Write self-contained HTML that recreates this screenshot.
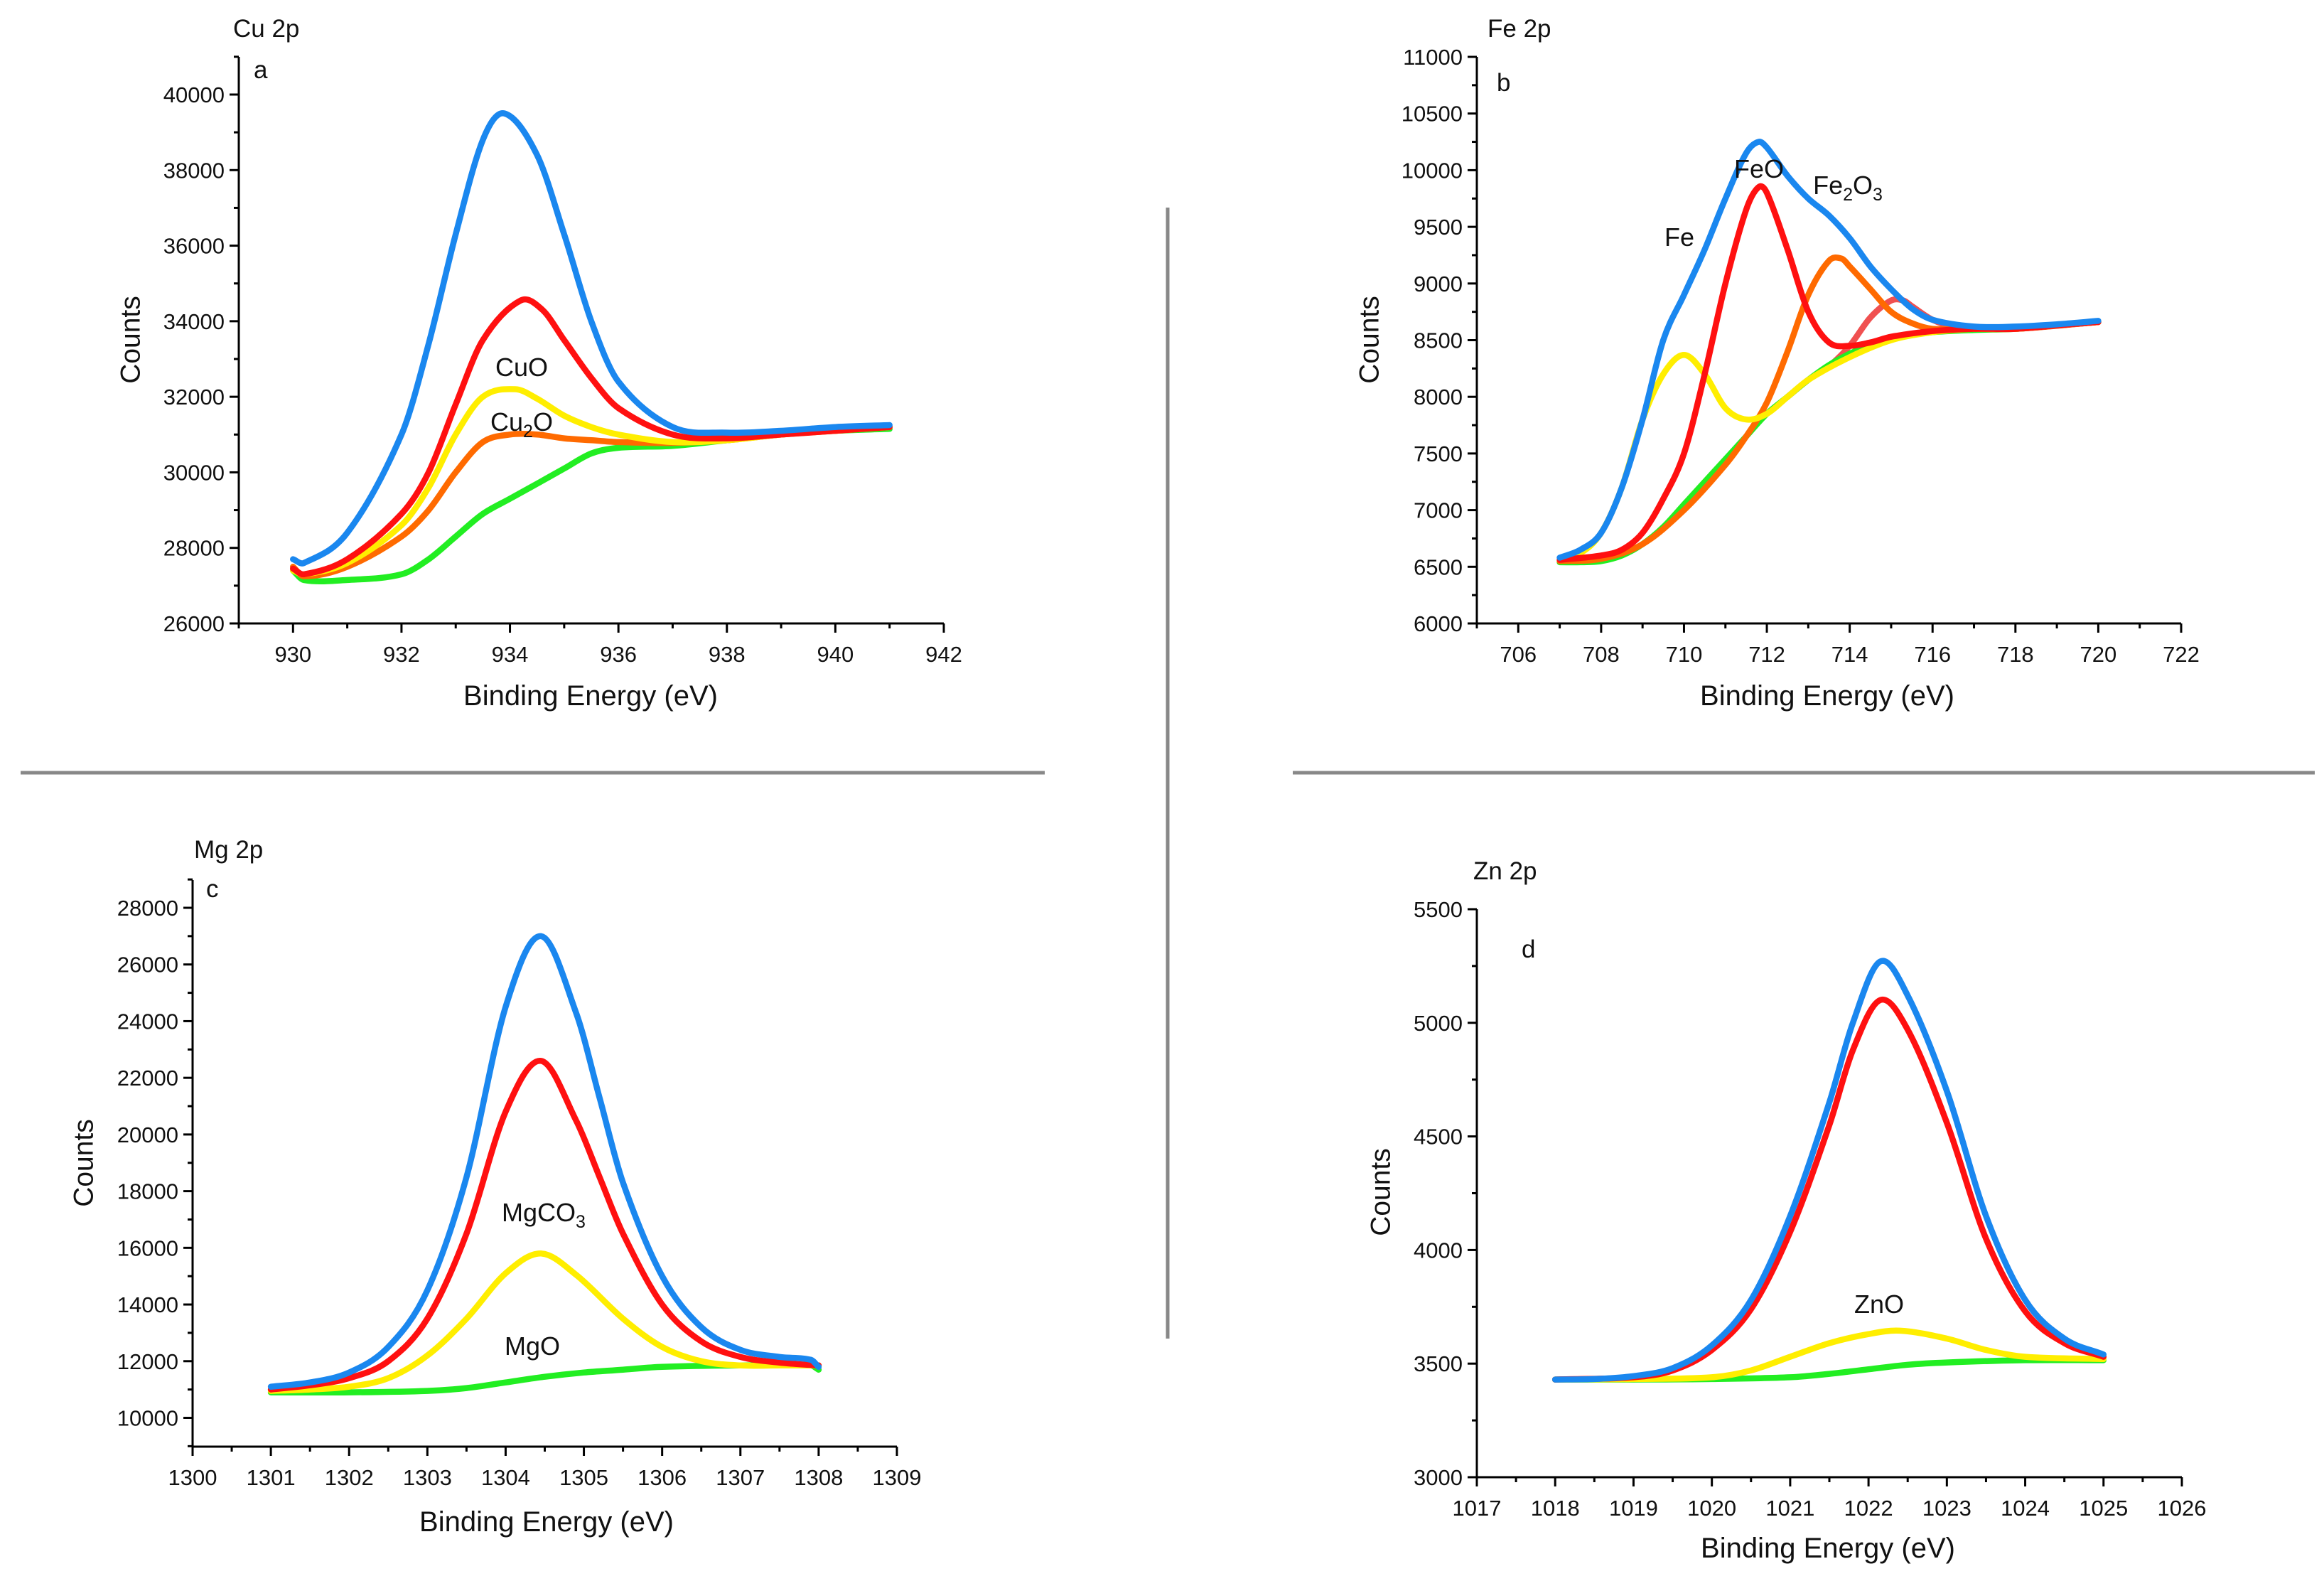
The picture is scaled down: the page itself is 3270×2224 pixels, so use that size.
<!DOCTYPE html>
<html><head><meta charset="utf-8"><style>
html,body{margin:0;padding:0;background:#fff;}
svg{display:block;font-family:"Liberation Sans",sans-serif;}
</style></head><body>
<svg id="fig" width="3270" height="2224" viewBox="0 0 3270 2224" xmlns="http://www.w3.org/2000/svg">
<rect width="3270" height="2224" fill="#fff"/>
<line x1="1643" y1="292" x2="1643" y2="1883" stroke="#888" stroke-width="5"/>
<line x1="29" y1="1087" x2="1470" y2="1087" stroke="#888" stroke-width="5"/>
<line x1="1819" y1="1087" x2="3257" y2="1087" stroke="#888" stroke-width="5"/>
</svg>
<script>
// ---- Panel a: Cu 2p ----
const cuBlueX=[930,930.2,931,932,932.5,933,933.5,933.9,934.5,935,935.5,936,937,938,939,940,941];
const cuBlueY=[27700,27600,28400,31000,33400,36300,38800,39500,38400,36300,34000,32400,31200,31050,31100,31200,31250];
const cuRedX=[930,930.2,931,932,932.5,933,933.5,934.2,934.6,935,935.5,936,937,938,939,940,941];
const cuRedY=[27450,27300,27700,28900,30000,31800,33500,34550,34300,33500,32500,31700,31000,30900,31000,31100,31200];
const cuYellowX=[930,930.2,931,932,932.5,933,933.5,934.1,934.5,935,935.5,936,937,938,939,940,941];
const cuYellowY=[27400,27300,27600,28600,29600,31000,32000,32200,31950,31500,31200,31000,30800,30850,31000,31100,31200];
const cuOrangeX=[930,930.2,931,932,932.5,933,933.5,934,934.5,935,935.5,936,937,938,939,940,941];
const cuOrangeY=[27500,27250,27500,28300,29000,30000,30800,31000,31000,30900,30850,30800,30780,30850,31000,31100,31200];
const cuGreenX=[930,930.2,931,932,932.5,933,933.5,934,934.5,935,935.5,936,937,938,939,940,941];
const cuGreenY=[27400,27150,27150,27300,27700,28300,28900,29300,29700,30100,30500,30650,30700,30850,31000,31100,31150];
// ---- Panel b: Fe 2p ----
const feBlueX=[707,707.5,708,708.5,709,709.5,710,710.5,711,711.5,711.8,712,712.5,713,713.5,714,714.5,715,715.5,716,717,718,719,720];
const feBlueY=[6580,6650,6800,7200,7800,8500,8900,9300,9750,10150,10250,10200,9950,9750,9600,9400,9150,8950,8780,8680,8620,8620,8640,8670];
const feYellowX=[707,707.5,708,708.5,709,709.5,710,710.5,711,711.5,712,712.5,713,714,715,716,717,718,719,720];
const feYellowY=[6560,6620,6800,7200,7800,8200,8370,8200,7900,7800,7850,8000,8150,8350,8500,8570,8600,8600,8630,8660];
const feRedX=[707,708,708.5,709,709.5,710,710.5,711,711.5,711.8,712,712.5,713,713.5,714,714.5,715,716,717,718,719,720];
const feRedY=[6560,6600,6650,6800,7100,7500,8200,9000,9650,9850,9800,9300,8750,8480,8450,8480,8530,8580,8600,8600,8630,8660];
const feOrangeX=[707,708,709,710,711,711.5,712,712.5,713,713.5,713.8,714,714.5,715,715.5,716,717,718,720];
const feOrangeY=[6550,6570,6700,7000,7400,7650,7950,8400,8900,9200,9220,9150,8950,8750,8650,8600,8600,8600,8660];
const feSatX=[712.5,713,713.5,714,714.5,715,715.3,715.5,716,716.5,717,718,720];
const feSatY=[8000,8150,8270,8450,8700,8850,8850,8800,8680,8620,8610,8600,8660];
const feGreenX=[707,707.5,708,708.5,709,709.5,710,710.5,711,711.5,712,712.5,713,713.5,714,714.5,715,716,717,718,719,720];
const feGreenY=[6540,6540,6550,6600,6700,6850,7050,7250,7450,7650,7850,8000,8150,8280,8380,8460,8520,8570,8590,8600,8630,8660];
// ---- Panel c: Mg 2p ----
const mgBlueX=[1301,1301.5,1302,1302.5,1303,1303.5,1304,1304.45,1304.9,1305.2,1305.5,1306,1306.5,1307,1307.5,1307.9,1308];
const mgBlueY=[11100,11250,11600,12500,14500,18500,24500,27000,24300,21300,18300,15000,13200,12400,12150,12050,11800];
const mgRedX=[1301,1301.5,1302,1302.5,1303,1303.5,1304,1304.45,1304.9,1305.2,1305.5,1306,1306.5,1307,1307.5,1308];
const mgRedY=[11000,11150,11400,12000,13500,16500,20800,22600,20500,18500,16500,14000,12700,12150,11950,11850];
const mgYellowX=[1301,1301.5,1302,1302.5,1303,1303.5,1304,1304.45,1304.9,1305.5,1306,1306.5,1307,1307.5,1308];
const mgYellowY=[10950,11000,11100,11400,12200,13500,15100,15800,15050,13500,12500,12000,11850,11850,11850];
const mgGreenX=[1301,1302,1303,1303.5,1304,1304.5,1305,1305.5,1306,1307,1307.9,1308];
const mgGreenY=[10900,10900,10950,11050,11250,11450,11600,11700,11800,11850,11850,11700];
// ---- Panel d: Zn 2p ----
const znBlueX=[1018,1018.5,1019,1019.5,1020,1020.5,1021,1021.5,1021.8,1022.15,1022.5,1023,1023.5,1024,1024.5,1025];
const znBlueY=[3430,3432,3445,3480,3580,3780,4150,4650,5000,5270,5120,4700,4150,3780,3610,3540];
const znRedX=[1018,1019,1019.5,1020,1020.5,1021,1021.5,1021.8,1022.15,1022.5,1023,1023.5,1024,1024.5,1025];
const znRedY=[3430,3440,3470,3560,3740,4080,4550,4880,5100,4970,4560,4050,3730,3590,3530];
const znYellowX=[1018,1019,1020,1020.5,1021,1021.5,1022,1022.4,1023,1023.5,1024,1025];
const znYellowY=[3430,3432,3440,3470,3530,3590,3630,3645,3610,3560,3530,3520];
const znGreenX=[1018,1019,1020,1021,1021.5,1022,1022.5,1023,1024,1025];
const znGreenY=[3430,3430,3432,3440,3455,3475,3495,3505,3515,3515];

const NS='http://www.w3.org/2000/svg';
const svg=document.getElementById('fig');
function mk(tag,attrs,parent){const e=document.createElementNS(NS,tag);for(const k in attrs)e.setAttribute(k,attrs[k]);(parent||svg).appendChild(e);return e;}
function fmt(v){return (Math.round(v*100)/100).toString();}

const panels=[
 {id:'cu',title:'Cu 2p',letter:'a',px0:336,px1:1328,xmin:929,xmax:942,py0:877,pyRef:133,ymin:26000,yRef:40000,yTopPx:80,
  xMaj:2,xMin:1,xStart:930,yMaj:2000,yMin:1000,yStart:26000,yEnd:40000,
  titlePos:[328,52],letterPos:[357,110],countsPos:[184,478],xTitlePos:[831,992],
  series:[[cuGreenX,cuGreenY,'#22ee22'],[cuOrangeX,cuOrangeY,'#ff6a00'],[cuYellowX,cuYellowY,'#ffee00'],[cuRedX,cuRedY,'#ff1010'],[cuBlueX,cuBlueY,'#1a87ef']],
  labels:[['CuO',734,517],['Cu|2|O',734,594]]},
 {id:'fe',title:'Fe 2p',letter:'b',px0:2078,px1:3069,xmin:705,xmax:722,py0:877,pyRef:80,ymin:6000,yRef:11000,yTopPx:80,
  xMaj:2,xMin:1,xStart:706,yMaj:500,yMin:250,yStart:6000,yEnd:11000,
  titlePos:[2093,52],letterPos:[2106,128],countsPos:[1927,478],xTitlePos:[2571,992],
  series:[[feSatX,feSatY,'#f05050'],[feGreenX,feGreenY,'#22ee22'],[feOrangeX,feOrangeY,'#ff6a00'],[feYellowX,feYellowY,'#ffee00'],[feRedX,feRedY,'#ff1010'],[feBlueX,feBlueY,'#1a87ef']],
  labels:[['Fe',2363,334],['FeO',2475,238],['Fe|2|O|3|',2600,261]]},
 {id:'mg',title:'Mg 2p',letter:'c',px0:271,px1:1262,xmin:1300,xmax:1309,py0:2035,pyRef:1277,ymin:9000,yRef:28000,yTopPx:1238,
  xMaj:1,xMin:0.5,xStart:1300,yMaj:2000,yMin:1000,yStart:10000,yEnd:28000,yZero:1994.5,
  titlePos:[273,1207],letterPos:[290,1262],countsPos:[118,1636],xTitlePos:[769,2154],
  series:[[mgGreenX,mgGreenY,'#22ee22'],[mgYellowX,mgYellowY,'#ffee00'],[mgRedX,mgRedY,'#ff1010'],[mgBlueX,mgBlueY,'#1a87ef']],
  labels:[['MgCO|3|',765,1706],['MgO',749,1894]]},
 {id:'zn',title:'Zn 2p',letter:'d',px0:2078,px1:3070,xmin:1017,xmax:1026,py0:2078,pyRef:1279,ymin:3000,yRef:5500,yTopPx:1279,
  xMaj:1,xMin:0.5,xStart:1017,yMaj:500,yMin:250,yStart:3000,yEnd:5500,
  titlePos:[2073,1237],letterPos:[2141,1347],countsPos:[1943,1677],xTitlePos:[2572,2191],
  series:[[znGreenX,znGreenY,'#22ee22'],[znYellowX,znYellowY,'#ffee00'],[znRedX,znRedY,'#ff1010'],[znBlueX,znBlueY,'#1a87ef']],
  labels:[['ZnO',2644,1835]]}
];

function smoothPath(pts){
  const n=pts.length,m=[];
  for(let i=0;i<n;i++){
    const a=pts[Math.max(0,i-1)],b=pts[Math.min(n-1,i+1)];
    m.push((b[1]-a[1])/(b[0]-a[0]));
  }
  let d='M'+pts[0][0].toFixed(1)+','+pts[0][1].toFixed(1);
  for(let i=0;i<n-1;i++){
    const p1=pts[i],p2=pts[i+1],dx=(p2[0]-p1[0])/3;
    d+=' C'+(p1[0]+dx).toFixed(1)+','+(p1[1]+m[i]*dx).toFixed(1)+' '+(p2[0]-dx).toFixed(1)+','+(p2[1]-m[i+1]*dx).toFixed(1)+' '+p2[0].toFixed(1)+','+p2[1].toFixed(1);
  }
  return d;
}

panels.forEach(p=>{
  const xs=v=>p.px0+(v-p.xmin)/(p.xmax-p.xmin)*(p.px1-p.px0);
  let ys;
  if(p.yZero!==undefined){ys=v=>p.yZero-(v-10000)/(p.yRef-10000)*(p.yZero-p.pyRef);}
  else {ys=v=>p.py0-(v-p.ymin)/(p.yRef-p.ymin)*(p.py0-p.pyRef);}
  const g=mk('g',{});
  
  
  const ax=mk('path',{d:'M'+p.px0+','+p.yTopPx+' L'+p.px0+','+p.py0+' L'+p.px1+','+p.py0,fill:'none',stroke:'#000','stroke-width':3},g);
  
  
  for(let v=p.xmin;v<=p.xmax+1e-9;v+=p.xMin){
    const x=xs(v);const isMaj=Math.abs(((v-p.xStart)/p.xMaj)-Math.round((v-p.xStart)/p.xMaj))<1e-6;
    mk('line',{x1:x,y1:p.py0,x2:x,y2:p.py0+(isMaj?13:7),stroke:'#000','stroke-width':3},g);
    if(isMaj){const t=mk('text',{x:x,y:p.py0+54,'font-size':31,'text-anchor':'middle',fill:'#111'},g);t.textContent=fmt(v);
      
      }
  }
  const yLo=p.yZero!==undefined?9000:p.ymin;
  const yHi=p.yEnd+(p.id==='cu'||p.id==='mg'?p.yMin:0);
  for(let v=yLo;v<=yHi+1e-9;v+=p.yMin){
    const y=ys(v);if(y<p.yTopPx-1)continue;
    const isMaj=v>=p.yStart&&Math.abs(((v-p.yStart)/p.yMaj)-Math.round((v-p.yStart)/p.yMaj))<1e-6&&v<=p.yEnd;
    mk('line',{x1:p.px0,y1:y,x2:p.px0-(isMaj?13:7),y2:y,stroke:'#000','stroke-width':3},g);
    if(isMaj){const t=mk('text',{x:p.px0-20,y:y+11,'font-size':31,'text-anchor':'end',fill:'#111'},g);t.textContent=fmt(v);
      
      }
  }
  p.series.forEach((s,i)=>{
    const pts=s[0].map((xv,k)=>[xs(xv),ys(s[1][k])]);
    const path=mk('path',{d:smoothPath(pts),fill:'none',stroke:s[2],'stroke-width':8.5,'stroke-linejoin':'round','stroke-linecap':'round'},g);
    
    
  });
  const tt=mk('text',{x:p.titlePos[0],y:p.titlePos[1],'font-size':35,fill:'#111'},g);tt.textContent=p.title;
  
  
  const lt=mk('text',{x:p.letterPos[0],y:p.letterPos[1],'font-size':35,fill:'#111'},g);lt.textContent=p.letter;
  
  
  const ct=mk('text',{x:p.countsPos[0],y:p.countsPos[1],'font-size':39,'text-anchor':'middle',fill:'#111',transform:'rotate(-90 '+p.countsPos[0]+' '+p.countsPos[1]+')','dominant-baseline':'central'},g);ct.textContent='Counts';
  
  
  const xt=mk('text',{x:p.xTitlePos[0],y:p.xTitlePos[1],'font-size':40,'text-anchor':'middle',fill:'#111'},g);xt.textContent='Binding Energy (eV)';
  
  
  p.labels.forEach(l=>{
    const t=mk('text',{x:l[1],y:l[2]+12,'font-size':36,'text-anchor':'middle',fill:'#111'},g);
    
    
    const parts=l[0].split('|');
    parts.forEach((pt,k)=>{if(!pt)return;const ts=mk('tspan',{},t);
      if(k%2===1){ts.setAttribute('font-size',25);ts.setAttribute('dy',9);}
      else if(k>0){ts.setAttribute('dy',-9);}
      ts.textContent=pt;});
  });
});
</script>
</body></html>
